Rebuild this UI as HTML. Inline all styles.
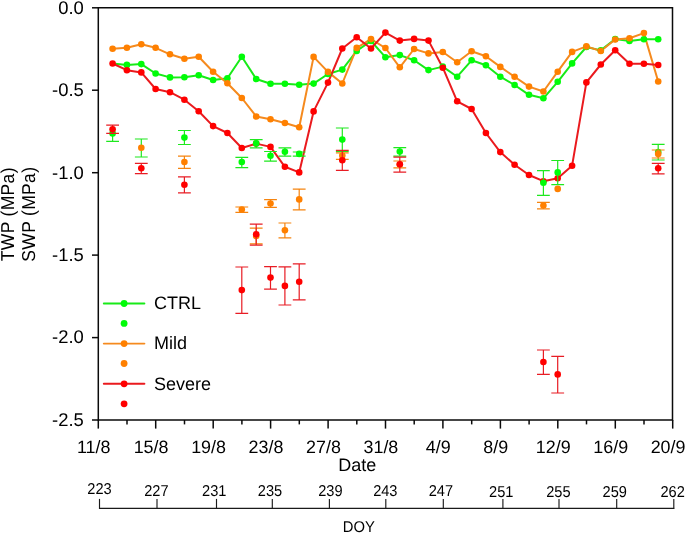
<!DOCTYPE html>
<html><head><meta charset="utf-8"><style>
html,body{margin:0;padding:0;background:#fff;}
body{width:685px;height:533px;overflow:hidden;}
svg{display:block;will-change:transform;text-rendering:geometricPrecision;font-family:"Liberation Sans",sans-serif;}
</style></head><body>
<svg width="685" height="533" viewBox="0 0 685 533">
<g stroke="#0a0a0a" stroke-width="1.5" fill="none"><path d="M98.3 7.75H672.5V420.0H98.3Z"/><path d="M92 7.8H98.3"/><path d="M92 90.2H98.3"/><path d="M92 172.7H98.3"/><path d="M92 255.1H98.3"/><path d="M92 337.6H98.3"/><path d="M92 420H98.3"/><path d="M98.3 420.0V428.6"/><path d="M127 420.0V424.4"/><path d="M155.7 420.0V428.6"/><path d="M184.5 420.0V424.4"/><path d="M213.2 420.0V428.6"/><path d="M241.9 420.0V424.4"/><path d="M270.6 420.0V428.6"/><path d="M299.3 420.0V424.4"/><path d="M328.1 420.0V428.6"/><path d="M356.8 420.0V424.4"/><path d="M385.5 420.0V428.6"/><path d="M414.2 420.0V424.4"/><path d="M442.9 420.0V428.6"/><path d="M471.7 420.0V424.4"/><path d="M500.4 420.0V428.6"/><path d="M529.1 420.0V424.4"/><path d="M557.8 420.0V428.6"/><path d="M586.5 420.0V424.4"/><path d="M615.3 420.0V428.6"/><path d="M644 420.0V424.4"/><path d="M672.7 420.0V428.6"/></g>
<g font-size="18.4" text-anchor="end" fill="#000"><text x="83.8" y="13.7">0.0</text><text x="83.8" y="96.1">-0.5</text><text x="83.8" y="178.6">-1.0</text><text x="83.8" y="261">-1.5</text><text x="83.8" y="343.4">-2.0</text><text x="83.8" y="425.9">-2.5</text></g>
<g font-size="17.9" text-anchor="middle" fill="#000"><text x="93.7" y="452.6">11/8</text><text x="151.1" y="452.6">15/8</text><text x="208.6" y="452.6">19/8</text><text x="266" y="452.6">23/8</text><text x="323.5" y="452.6">27/8</text><text x="380.9" y="452.6">31/8</text><text x="438.3" y="452.6">4/9</text><text x="495.8" y="452.6">8/9</text><text x="553.2" y="452.6">12/9</text><text x="610.7" y="452.6">16/9</text><text x="668.1" y="452.6">20/9</text></g>
<text x="357.3" y="471.3" font-size="18" text-anchor="middle" fill="#000">Date</text>
<text transform="translate(14.3 214.2) rotate(-90) scale(1 1.065)" font-size="17.5" letter-spacing="0.33" text-anchor="middle" fill="#000">TWP (MPa)</text>
<text transform="translate(34.8 214.2) rotate(-90) scale(1 1.065)" font-size="17.5" letter-spacing="0.33" text-anchor="middle" fill="#000">SWP (MPa)</text>
<polyline points="112.6,63.5 126.9,64.9 141.3,64.1 155.6,73.5 170,77.4 184.4,77.2 198.7,75.3 213.1,80 227.4,78.2 241.8,56.8 256.2,79 270.5,83.8 284.9,83.8 299.2,84.7 313.6,83.6 328,74 342.3,69.6 356.7,50.9 371,41 385.4,57.2 399.8,55.1 414.1,60.2 428.5,70.1 442.8,66.6 457.2,76.7 471.6,60.3 485.9,65.3 500.3,76.7 514.6,85 529,94.8 543.4,98.3 557.7,81.8 572.1,63.4 586.4,47 600.8,50.4 615.2,39 629.5,41 643.9,39.2 658.2,39.2" fill="none" stroke="#18ea18" stroke-width="2.0" stroke-linejoin="round"/>
<polyline points="112.6,48.8 126.9,47.8 141.3,44.3 155.6,47.8 170,54.3 184.4,58.8 198.7,56.8 213.1,71.7 227.4,83.2 241.8,98 256.2,116.5 270.5,119.2 284.9,123 299.2,127.3 313.6,56.9 328,71.9 342.3,83.5 356.7,47.9 371,39.1 385.4,48 399.8,67.3 414.1,49 428.5,53.4 442.8,52 457.2,62.3 471.6,51.3 485.9,56.2 500.3,66.9 514.6,76.8 529,86.6 543.4,91.5 557.7,71.7 572.1,51.9 586.4,46.4 600.8,51 615.2,39.5 629.5,38.2 643.9,33.1 658.2,81.5" fill="none" stroke="#f58a1e" stroke-width="2.0" stroke-linejoin="round"/>
<polyline points="112.6,63.5 126.9,70.2 141.3,72.4 155.6,89 170,92.2 184.4,99.7 198.7,111.3 213.1,126.1 227.4,133 241.8,148 256.2,143.6 270.5,146.9 284.9,166.8 299.2,172.4 313.6,111.4 328,82.6 342.3,48.5 356.7,37.2 371,48.5 385.4,32.6 399.8,40.6 414.1,38.9 428.5,40.6 442.8,67.7 457.2,101.3 471.6,109 485.9,133 500.3,152.1 514.6,164.8 529,175 543.4,181.2 557.7,178.3 572.1,165.7 586.4,82.4 600.8,64.5 615.2,50.3 629.5,63.7 643.9,63.7 658.2,65" fill="none" stroke="#ea1a1e" stroke-width="2.0" stroke-linejoin="round"/>
<g fill="#00fc08"><circle cx="126.9" cy="64.9" r="3.3"/><circle cx="141.3" cy="64.1" r="3.3"/><circle cx="155.6" cy="73.5" r="3.3"/><circle cx="170" cy="77.4" r="3.3"/><circle cx="184.4" cy="77.2" r="3.3"/><circle cx="198.7" cy="75.3" r="3.3"/><circle cx="213.1" cy="80" r="3.3"/><circle cx="227.4" cy="78.2" r="3.3"/><circle cx="241.8" cy="56.8" r="3.3"/><circle cx="256.2" cy="79" r="3.3"/><circle cx="270.5" cy="83.8" r="3.3"/><circle cx="284.9" cy="83.8" r="3.3"/><circle cx="299.2" cy="84.7" r="3.3"/><circle cx="313.6" cy="83.6" r="3.3"/><circle cx="328" cy="74" r="3.3"/><circle cx="342.3" cy="69.6" r="3.3"/><circle cx="356.7" cy="50.9" r="3.3"/><circle cx="371" cy="41" r="3.3"/><circle cx="385.4" cy="57.2" r="3.3"/><circle cx="399.8" cy="55.1" r="3.3"/><circle cx="414.1" cy="60.2" r="3.3"/><circle cx="428.5" cy="70.1" r="3.3"/><circle cx="442.8" cy="66.6" r="3.3"/><circle cx="457.2" cy="76.7" r="3.3"/><circle cx="471.6" cy="60.3" r="3.3"/><circle cx="485.9" cy="65.3" r="3.3"/><circle cx="500.3" cy="76.7" r="3.3"/><circle cx="514.6" cy="85" r="3.3"/><circle cx="529" cy="94.8" r="3.3"/><circle cx="543.4" cy="98.3" r="3.3"/><circle cx="557.7" cy="81.8" r="3.3"/><circle cx="572.1" cy="63.4" r="3.3"/><circle cx="586.4" cy="47" r="3.3"/><circle cx="600.8" cy="50.4" r="3.3"/><circle cx="615.2" cy="39" r="3.3"/><circle cx="629.5" cy="41" r="3.3"/><circle cx="643.9" cy="39.2" r="3.3"/><circle cx="658.2" cy="39.2" r="3.3"/></g>
<g fill="#ff8000"><circle cx="112.6" cy="48.8" r="3.3"/><circle cx="126.9" cy="47.8" r="3.3"/><circle cx="141.3" cy="44.3" r="3.3"/><circle cx="155.6" cy="47.8" r="3.3"/><circle cx="170" cy="54.3" r="3.3"/><circle cx="184.4" cy="58.8" r="3.3"/><circle cx="198.7" cy="56.8" r="3.3"/><circle cx="213.1" cy="71.7" r="3.3"/><circle cx="227.4" cy="83.2" r="3.3"/><circle cx="241.8" cy="98" r="3.3"/><circle cx="256.2" cy="116.5" r="3.3"/><circle cx="270.5" cy="119.2" r="3.3"/><circle cx="284.9" cy="123" r="3.3"/><circle cx="299.2" cy="127.3" r="3.3"/><circle cx="313.6" cy="56.9" r="3.3"/><circle cx="328" cy="71.9" r="3.3"/><circle cx="342.3" cy="83.5" r="3.3"/><circle cx="356.7" cy="47.9" r="3.3"/><circle cx="371" cy="39.1" r="3.3"/><circle cx="385.4" cy="48" r="3.3"/><circle cx="399.8" cy="67.3" r="3.3"/><circle cx="414.1" cy="49" r="3.3"/><circle cx="428.5" cy="53.4" r="3.3"/><circle cx="442.8" cy="52" r="3.3"/><circle cx="457.2" cy="62.3" r="3.3"/><circle cx="471.6" cy="51.3" r="3.3"/><circle cx="485.9" cy="56.2" r="3.3"/><circle cx="500.3" cy="66.9" r="3.3"/><circle cx="514.6" cy="76.8" r="3.3"/><circle cx="529" cy="86.6" r="3.3"/><circle cx="543.4" cy="91.5" r="3.3"/><circle cx="557.7" cy="71.7" r="3.3"/><circle cx="572.1" cy="51.9" r="3.3"/><circle cx="586.4" cy="46.4" r="3.3"/><circle cx="600.8" cy="51" r="3.3"/><circle cx="615.2" cy="39.5" r="3.3"/><circle cx="629.5" cy="38.2" r="3.3"/><circle cx="643.9" cy="33.1" r="3.3"/><circle cx="658.2" cy="81.5" r="3.3"/></g>
<g fill="#ff0000"><circle cx="112.6" cy="63.5" r="3.3"/><circle cx="126.9" cy="70.2" r="3.3"/><circle cx="141.3" cy="72.4" r="3.3"/><circle cx="155.6" cy="89" r="3.3"/><circle cx="170" cy="92.2" r="3.3"/><circle cx="184.4" cy="99.7" r="3.3"/><circle cx="198.7" cy="111.3" r="3.3"/><circle cx="213.1" cy="126.1" r="3.3"/><circle cx="227.4" cy="133" r="3.3"/><circle cx="241.8" cy="148" r="3.3"/><circle cx="256.2" cy="143.6" r="3.3"/><circle cx="270.5" cy="146.9" r="3.3"/><circle cx="284.9" cy="166.8" r="3.3"/><circle cx="299.2" cy="172.4" r="3.3"/><circle cx="313.6" cy="111.4" r="3.3"/><circle cx="328" cy="82.6" r="3.3"/><circle cx="342.3" cy="48.5" r="3.3"/><circle cx="356.7" cy="37.2" r="3.3"/><circle cx="371" cy="48.5" r="3.3"/><circle cx="385.4" cy="32.6" r="3.3"/><circle cx="399.8" cy="40.6" r="3.3"/><circle cx="414.1" cy="38.9" r="3.3"/><circle cx="428.5" cy="40.6" r="3.3"/><circle cx="442.8" cy="67.7" r="3.3"/><circle cx="457.2" cy="101.3" r="3.3"/><circle cx="471.6" cy="109" r="3.3"/><circle cx="485.9" cy="133" r="3.3"/><circle cx="500.3" cy="152.1" r="3.3"/><circle cx="514.6" cy="164.8" r="3.3"/><circle cx="529" cy="175" r="3.3"/><circle cx="543.4" cy="181.2" r="3.3"/><circle cx="557.7" cy="178.3" r="3.3"/><circle cx="572.1" cy="165.7" r="3.3"/><circle cx="586.4" cy="82.4" r="3.3"/><circle cx="600.8" cy="64.5" r="3.3"/><circle cx="615.2" cy="50.3" r="3.3"/><circle cx="629.5" cy="63.7" r="3.3"/><circle cx="643.9" cy="63.7" r="3.3"/><circle cx="658.2" cy="65" r="3.3"/></g>
<g stroke="#1ee81e" stroke-width="1.2" fill="none"><path d="M112.6 127.5V141.4M106.2 141.4H119"/><path d="M141.3 139V157M134.9 139H147.7M134.9 157H147.7"/><path d="M184.4 130.5V144.5M178 130.5H190.8M178 144.5H190.8"/><path d="M241.8 157.4V167.6M235.4 157.4H248.2M235.4 167.6H248.2"/><path d="M256.2 139.7V147.9M249.8 139.7H262.6M249.8 147.9H262.6"/><path d="M270.5 151.5V161.1M264.1 151.5H276.9M264.1 161.1H276.9"/><path d="M284.9 147.9V156.1M278.5 147.9H291.3M278.5 156.1H291.3"/><path d="M299.2 152V156.1M292.8 152H305.6M292.8 156.1H305.6"/><path d="M342.3 128V151.4M335.9 128H348.7M335.9 151.4H348.7"/><path d="M399.8 147.7V156.1M393.4 147.7H406.2M393.4 156.1H406.2"/><path d="M543.4 170.6V195.3M537 170.6H549.8M537 195.3H549.8"/><path d="M557.7 160.5V184.7M551.3 160.5H564.1M551.3 184.7H564.1"/><path d="M658.2 144.3V160M651.8 144.3H664.6M651.8 160H664.6"/></g>
<g fill="#00fc08"><circle cx="112.6" cy="133.4" r="3.3"/><circle cx="184.4" cy="137.6" r="3.3"/><circle cx="241.8" cy="162" r="3.3"/><circle cx="256.2" cy="143.4" r="3.3"/><circle cx="270.5" cy="155.7" r="3.3"/><circle cx="284.9" cy="151.8" r="3.3"/><circle cx="299.2" cy="153.9" r="3.3"/><circle cx="342.3" cy="139.6" r="3.3"/><circle cx="399.8" cy="151.6" r="3.3"/><circle cx="543.4" cy="182.8" r="3.3"/><circle cx="557.7" cy="172.4" r="3.3"/><circle cx="658.2" cy="152.1" r="3.3"/></g>
<g stroke="#f5840f" stroke-width="1.2" fill="none"><path d="M184.4 156.1V168.4M178 156.1H190.8M178 168.4H190.8"/><path d="M241.8 207V212.4M235.4 207H248.2M235.4 212.4H248.2"/><path d="M256.2 228.1V243.9M249.8 228.1H262.6M249.8 243.9H262.6"/><path d="M270.5 199.6V207.4M264.1 199.6H276.9M264.1 207.4H276.9"/><path d="M284.9 223V237.8M278.5 223H291.3M278.5 237.8H291.3"/><path d="M299.2 189.1V209.9M292.8 189.1H305.6M292.8 209.9H305.6"/><path d="M342.3 152.8V159.4M335.9 152.8H348.7M335.9 159.4H348.7"/><path d="M399.8 161V167.9M393.4 161H406.2M393.4 167.9H406.2"/><path d="M543.4 202.3V208.9M537 202.3H549.8M537 208.9H549.8"/><path d="M658.2 150V158M651.8 150H664.6M651.8 158H664.6"/></g>
<g fill="#ff8000"><circle cx="141.3" cy="147.8" r="3.3"/><circle cx="184.4" cy="162" r="3.3"/><circle cx="241.8" cy="209.5" r="3.3"/><circle cx="256.2" cy="236" r="3.3"/><circle cx="270.5" cy="203.5" r="3.3"/><circle cx="284.9" cy="230.3" r="3.3"/><circle cx="299.2" cy="199.4" r="3.3"/><circle cx="342.3" cy="155.6" r="3.3"/><circle cx="399.8" cy="164.5" r="3.3"/><circle cx="543.4" cy="205.5" r="3.3"/><circle cx="557.7" cy="188.9" r="3.3"/><circle cx="658.2" cy="153.9" r="3.3"/></g>
<g stroke="#e81c24" stroke-width="1.2" fill="none"><path d="M112.6 125.2V133.4M106.2 125.2H119M106.2 133.4H119"/><path d="M141.3 163.3V173.7M134.9 163.3H147.7M134.9 173.7H147.7"/><path d="M184.4 176.9V192.8M178 176.9H190.8M178 192.8H190.8"/><path d="M241.8 267V313.3M235.4 267H248.2M235.4 313.3H248.2"/><path d="M256.2 224.1V245.1M249.8 224.1H262.6M249.8 245.1H262.6"/><path d="M270.5 266.6V289.1M264.1 266.6H276.9M264.1 289.1H276.9"/><path d="M284.9 266.8V305M278.5 266.8H291.3M278.5 305H291.3"/><path d="M299.2 263.9V299.9M292.8 263.9H305.6M292.8 299.9H305.6"/><path d="M342.3 150.4V170.3M335.9 150.4H348.7M335.9 170.3H348.7"/><path d="M399.8 157.1V172.1M393.4 157.1H406.2M393.4 172.1H406.2"/><path d="M543.4 350V374.4M537 350H549.8M537 374.4H549.8"/><path d="M557.7 356.4V393M551.3 356.4H564.1M551.3 393H564.1"/><path d="M658.2 163.3V173.8M651.8 163.3H664.6M651.8 173.8H664.6"/></g>
<g fill="#ff0000"><circle cx="112.6" cy="129.2" r="3.3"/><circle cx="141.3" cy="168.2" r="3.3"/><circle cx="184.4" cy="184.7" r="3.3"/><circle cx="241.8" cy="290.1" r="3.3"/><circle cx="256.2" cy="234.2" r="3.3"/><circle cx="270.5" cy="277.6" r="3.3"/><circle cx="284.9" cy="285.9" r="3.3"/><circle cx="299.2" cy="281.8" r="3.3"/><circle cx="342.3" cy="160.2" r="3.3"/><circle cx="399.8" cy="164.2" r="3.3"/><circle cx="543.4" cy="362" r="3.3"/><circle cx="557.7" cy="374.4" r="3.3"/><circle cx="658.2" cy="168.3" r="3.3"/></g>
<path d="M103.8 303.5H144.4" stroke="#18ea18" stroke-width="1.9" stroke-linecap="round"/><circle cx="124.1" cy="303.5" r="3.4" fill="#00fc08"/><circle cx="124.1" cy="323.4" r="3.4" fill="#00fc08"/><text x="154.05" y="309.3" font-size="18" fill="#000">CTRL</text>
<path d="M103.8 343.6H144.4" stroke="#f58a1e" stroke-width="1.9" stroke-linecap="round"/><circle cx="124.1" cy="343.6" r="3.4" fill="#ff8000"/><circle cx="124.1" cy="363.5" r="3.4" fill="#ff8000"/><text x="154.05" y="349.4" font-size="18" fill="#000">Mild</text>
<path d="M103.8 383.8H144.4" stroke="#ea1a1e" stroke-width="1.9" stroke-linecap="round"/><circle cx="124.1" cy="383.8" r="3.4" fill="#ff0000"/><circle cx="124.1" cy="403.8" r="3.4" fill="#ff0000"/><text x="154.05" y="389.6" font-size="18" fill="#000">Severe</text>
<g stroke="#1a1a1a" stroke-width="1.15" fill="none"><path d="M99.2 508.4H674.2"/><path d="M99.5 509V498.9"/><path d="M157 509V498.9"/><path d="M216.5 509V498.9"/><path d="M272.3 509V498.9"/><path d="M329.4 509V498.9"/><path d="M385.8 509V498.9"/><path d="M443.3 509V498.9"/><path d="M502.9 509V498.9"/><path d="M559 509V498.9"/><path d="M616.7 509V498.9"/><path d="M673.8 509V498.9"/></g>
<g font-size="14.6" text-anchor="middle" fill="#000"><text transform="translate(99.5 494.2) scale(1 1.08)">223</text><text transform="translate(156.4 496.3) scale(1 1.08)">227</text><text transform="translate(214.2 495.5) scale(1 1.08)">231</text><text transform="translate(270 495.9) scale(1 1.08)">235</text><text transform="translate(330.4 495.9) scale(1 1.08)">239</text><text transform="translate(385.3 496.1) scale(1 1.08)">243</text><text transform="translate(440.9 496.3) scale(1 1.08)">247</text><text transform="translate(501.2 496.6) scale(1 1.08)">251</text><text transform="translate(558.4 496.6) scale(1 1.08)">255</text><text transform="translate(614.7 496.8) scale(1 1.08)">259</text><text transform="translate(672.6 496.8) scale(1 1.08)">262</text></g>
<text transform="translate(358.8 531.9) scale(1 1.05)" font-size="14.8" text-anchor="middle" fill="#000">DOY</text>
</svg>
</body></html>
